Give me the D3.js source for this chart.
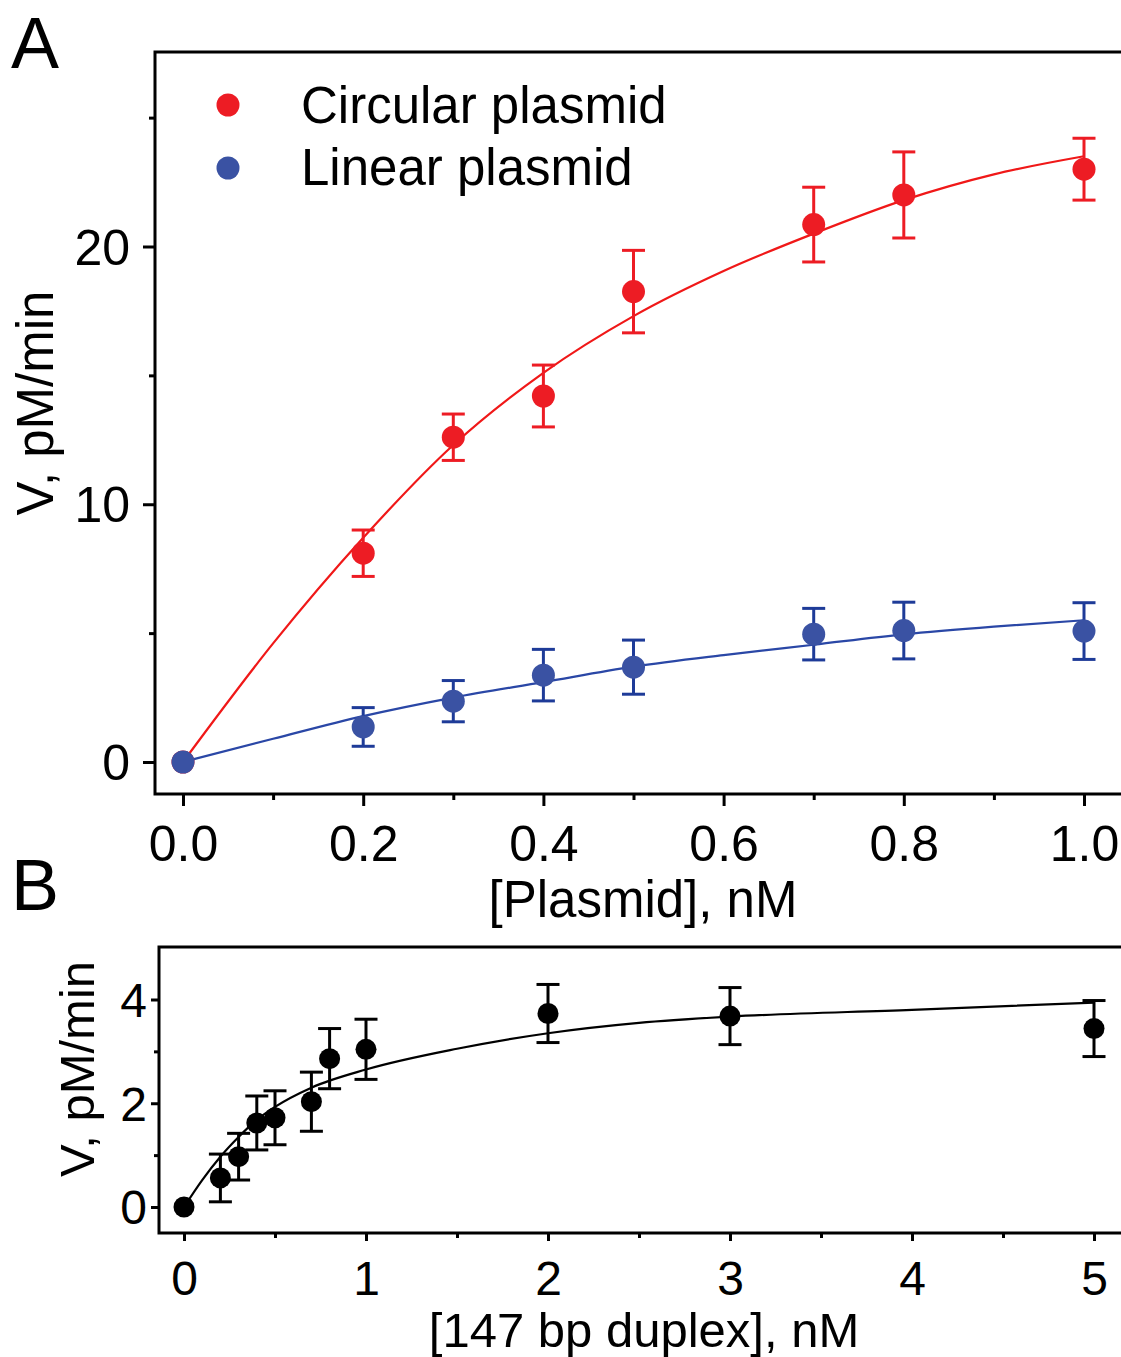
<!DOCTYPE html>
<html lang="en">
<head>
<meta charset="UTF-8">
<title>Plasmid kinetics</title>
<style>
  body { margin: 0; background: #fff; }
  svg { display: block; font-family: "Liberation Sans", Arial, sans-serif; }
</style>
</head>
<body>
<svg width="1121" height="1357"></svg>
<script src="https://cdn.jsdelivr.net/npm/d3@7/dist/d3.min.js"></script>
<script>
// ---- panel A data ----
const plasmidX = [0.0, 0.2, 0.3, 0.4, 0.5, 0.7, 0.8, 1.0];
const circularV = [0, 8.1, 12.6, 14.2, 18.25, 20.85, 22.0, 23.0];
const circularErr = [0, 0.9, 0.9, 1.2, 1.6, 1.45, 1.67, 1.2];
const linearV = [0, 1.36, 2.36, 3.37, 3.68, 4.96, 5.1, 5.08];
const linearErr = [0, 0.75, 0.8, 1.0, 1.05, 1.0, 1.1, 1.1];
// fitted curves
const fitAX = [0, 0.1, 0.2, 0.3, 0.4, 0.5, 0.6, 0.7, 0.8, 0.9, 1.0];
const circularFit = [0, 4.6, 8.7, 12.3, 15.1, 17.3, 19.05, 20.5, 21.8, 22.8, 23.5];
const linearFit = [0, 0.9, 1.78, 2.5, 3.1, 3.7, 4.15, 4.55, 4.95, 5.25, 5.5];
const xTicksA = [0, 0.2, 0.4, 0.6, 0.8, 1.0];
const xMinorA = [0.1, 0.3, 0.5, 0.7, 0.9];
const yTicksA = [0, 10, 20];
const yMinorA = [5, 15, 25];

// ---- panel B data ----
const duplexX = [0, 0.2, 0.3, 0.4, 0.5, 0.7, 0.8, 1.0, 2, 3, 5];
const duplexV = [0, 0.56, 0.97, 1.62, 1.72, 2.03, 2.86, 3.04, 3.73, 3.68, 3.44];
const duplexErr = [0, 0.46, 0.45, 0.52, 0.52, 0.57, 0.58, 0.58, 0.56, 0.55, 0.54];
const fitBX = [0, 0.1, 0.2, 0.3, 0.4, 0.5, 0.7, 1.0, 1.5, 2, 2.5, 3, 4, 5];
const duplexFit = [0, 0.52, 0.97, 1.35, 1.68, 1.93, 2.3, 2.65, 3.05, 3.35, 3.55, 3.67, 3.8, 3.94];
const xTicksB = [0, 1, 2, 3, 4, 5];
const xMinorB = [0.5, 1.5, 2.5, 3.5, 4.5];
const yTicksB = [0, 2, 4];
const yMinorB = [1, 3];

const RED = "#ed1c24", BLUE = "#3a52a3", BLUE_BAR = "#1e3b98";

const svg = d3.select("svg");

function panel(o) {
  const g = svg.append("g");
  const x = d3.scaleLinear().domain(o.xd).range(o.xr);
  const y = d3.scaleLinear().domain(o.yd).range(o.yr);

  // frame (right edge runs off the page)
  g.append("rect")
    .attr("x", o.left).attr("y", o.top)
    .attr("width", 1200).attr("height", o.bottom - o.top)
    .attr("fill", "none").attr("stroke", "#000").attr("stroke-width", 3);

  // x axis
  const xa = g.append("g").attr("transform", `translate(0,${o.bottom})`)
    .call(d3.axisBottom(x).tickValues(o.xt).tickSize(o.major).tickFormat(o.xf));
  g.append("g").attr("transform", `translate(0,${o.bottom})`)
    .call(d3.axisBottom(x).tickValues(o.xm).tickSize(o.minor).tickFormat(""));
  // y axis
  const ya = g.append("g").attr("transform", `translate(${o.left},0)`)
    .call(d3.axisLeft(y).tickValues(o.yt).tickSize(o.major).tickFormat(d3.format("d")));
  g.append("g").attr("transform", `translate(${o.left},0)`)
    .call(d3.axisLeft(y).tickValues(o.ym).tickSize(o.minor).tickFormat(""));

  g.selectAll(".domain").remove();
  g.selectAll(".tick line").attr("stroke", "#000").attr("stroke-width", 3);
  xa.selectAll("text").attr("font-size", o.fs).attr("fill", "#000")
    .attr("dy", null).attr("y", o.xLabelY - o.bottom);
  ya.selectAll("text").attr("font-size", o.fs).attr("fill", "#000")
    .attr("x", -o.yLabelGap).attr("dy", "0.35em");

  // axis titles
  g.append("text").attr("x", o.xTitleX).attr("y", o.xTitleY)
    .attr("text-anchor", "middle").attr("font-size", o.tfs).text(o.xTitle);
  g.append("text")
    .attr("transform", `translate(${o.yTitleX},${o.yTitleY}) rotate(-90)`)
    .attr("text-anchor", "middle").attr("font-size", o.tfs).text(o.yTitle);

  // panel letter
  g.append("text").attr("x", o.letterX).attr("y", o.letterY)
    .attr("font-size", 72).text(o.letter);

  const line = d3.line().x(d => x(d[0])).y(d => y(d[1])).curve(d3.curveMonotoneX);

  o.series.forEach(s => {
    g.append("path")
      .datum(s.fitX.map((v, i) => [v, s.fit[i]]))
      .attr("fill", "none").attr("stroke", s.lineColor).attr("stroke-width", 2.2)
      .attr("d", line);
  });

  o.series.forEach(s => {
    const pts = s.x.map((v, i) => ({x: v, y: s.y[i], e: s.err[i]})).filter(d => d.e > 0);
    const eb = g.append("g").attr("stroke", s.barColor).attr("stroke-width", 3);
    eb.selectAll("line.v").data(pts).join("line")
      .attr("x1", d => x(d.x)).attr("x2", d => x(d.x))
      .attr("y1", d => y(d.y - d.e)).attr("y2", d => y(d.y + d.e));
    eb.selectAll("line.t").data(pts).join("line")
      .attr("x1", d => x(d.x) - 11.5).attr("x2", d => x(d.x) + 11.5)
      .attr("y1", d => y(d.y + d.e)).attr("y2", d => y(d.y + d.e));
    eb.selectAll("line.b").data(pts).join("line")
      .attr("x1", d => x(d.x) - 11.5).attr("x2", d => x(d.x) + 11.5)
      .attr("y1", d => y(d.y - d.e)).attr("y2", d => y(d.y - d.e));
  });

  o.series.forEach(s => {
    g.append("g").selectAll("circle")
      .data(s.x.map((v, i) => [v, s.y[i]]))
      .join("circle")
      .attr("cx", d => x(d[0])).attr("cy", d => y(d[1]))
      .attr("r", o.r).attr("fill", s.color);
  });

  return g;
}

const gA = panel({
  xd: [0, 1], xr: [183, 1084], yd: [0, 20], yr: [762, 246.5],
  left: 155, top: 52, bottom: 794,
  xt: xTicksA, xm: xMinorA, yt: yTicksA, ym: yMinorA,
  xf: d3.format(".1f"), major: 12, minor: 6, fs: 50, tfs: 51,
  xLabelY: 861, yLabelGap: 25,
  xTitle: "[Plasmid], nM", xTitleX: 643, xTitleY: 917,
  yTitle: "V, pM/min", yTitleX: 53, yTitleY: 403,
  letter: "A", letterX: 11, letterY: 68, r: 11.5,
  series: [
    {x: plasmidX, y: circularV, err: circularErr, fitX: fitAX, fit: circularFit,
     color: RED, barColor: RED, lineColor: "#f01818"},
    {x: plasmidX, y: linearV, err: linearErr, fitX: fitAX, fit: linearFit,
     color: BLUE, barColor: BLUE_BAR, lineColor: "#2a47a6"}
  ]
});

// legend
const legend = gA.append("g");
const legendItems = [["Circular plasmid", RED], ["Linear plasmid", BLUE]];
legend.selectAll("circle").data(legendItems).join("circle")
  .attr("cx", 228).attr("cy", (d, i) => 105 + i * 63).attr("r", 11.5)
  .attr("fill", d => d[1]);
legend.selectAll("text").data(legendItems).join("text")
  .attr("x", 301).attr("y", (d, i) => 123 + i * 62)
  .attr("font-size", 51).text(d => d[0]);

panel({
  xd: [0, 5], xr: [184, 1094], yd: [0, 4], yr: [1207, 999.5],
  left: 159, top: 947, bottom: 1233,
  xt: xTicksB, xm: xMinorB, yt: yTicksB, ym: yMinorB,
  xf: d3.format("d"), major: 8, minor: 5, fs: 48, tfs: 49,
  xLabelY: 1295, yLabelGap: 12,
  xTitle: "[147 bp duplex], nM", xTitleX: 644, xTitleY: 1347,
  yTitle: "V, pM/min", yTitleX: 94, yTitleY: 1069,
  letter: "B", letterX: 11, letterY: 910, r: 10.5,
  series: [
    {x: duplexX, y: duplexV, err: duplexErr, fitX: fitBX, fit: duplexFit,
     color: "#000", barColor: "#000", lineColor: "#000"}
  ]
});
</script>
</body>
</html>
